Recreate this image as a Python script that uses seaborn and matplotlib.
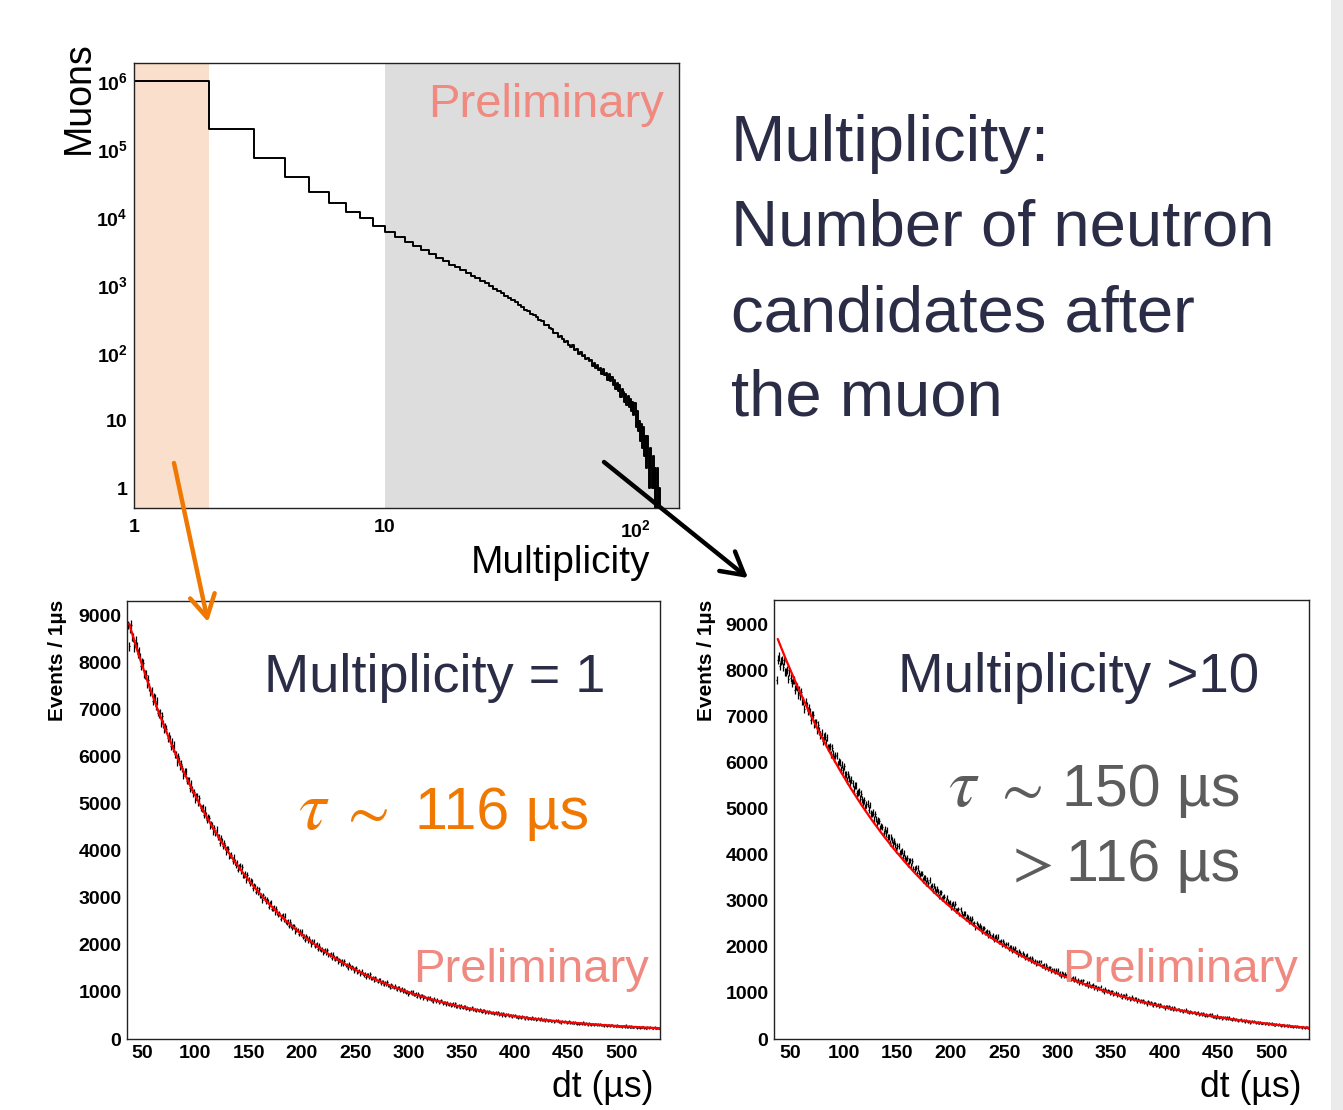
import numpy as np
import matplotlib
matplotlib.use("Agg")
import matplotlib.pyplot as plt
from matplotlib.patches import Rectangle, FancyArrowPatch
from matplotlib.ticker import MultipleLocator, LogLocator, NullFormatter
import seaborn as sns

# ---------------------------------------------------------------------------
# Muon neutron-multiplicity distribution: integer bins [k, k+1)
# ---------------------------------------------------------------------------
mult_low = list(range(1, 125))
muon_counts = [
    1030000, 196000, 75000, 39000, 23600, 16300, 11800, 9600, 7350, 6070,
    5100, 4330, 3690, 3230, 2810, 2500, 2230, 1990, 1810, 1630,
    1500, 1365, 1258, 1145, 1052, 950, 882, 801, 749, 684,
    641, 590, 556, 506, 474, 433, 409, 372, 354, 336,
    301, 289, 259, 252, 228, 222, 198, 195, 171, 174,
    161, 144, 149, 131, 122, 128, 109, 113, 97, 104,
    88, 94, 80, 84, 75, 79, 64, 71, 59, 66,
    55, 60, 49, 57, 47, 51, 40, 48, 38, 44,
    33, 40, 29, 36, 27, 33, 22, 29, 26, 19,
    25, 17, 23, 16, 21, 14, 19, 12, 18, 8,
    14, 7, 10, 5, 9, 4, 8, 3, 6, 2,
    6, 3, 1, 4, 2, 1, 3, 1, 2, 0,
    1, 2, 0, 1,
]
mult1_range = (1, 2)
mult10_range = (10, 149)

# ---------------------------------------------------------------------------
# Neutron capture time after the muon, 1 us bins (centres 37 ... 535 us)
# ---------------------------------------------------------------------------
dt_bins = list(range(37, 536))

counts_mult1 = [
    8790, 8340, 8719, 8797, 8542, 8524, 8317, 8462, 8329,
    8182, 8232, 8109, 7914, 8000, 7987, 7745, 7741, 7737, 7532,
    7633, 7467, 7360, 7394, 7183, 7251, 7250, 7074, 7177, 6932,
    6897, 6915, 6717, 6851, 6694, 6571, 6621, 6588, 6382, 6433,
    6383, 6219, 6302, 6170, 6246, 6042, 6037, 5873, 6005, 5904,
    5790, 5841, 5747, 5593, 5674, 5672, 5479, 5484, 5490, 5328,
    5421, 5289, 5209, 5245, 5077, 5144, 5151, 5012, 5107, 4909,
    4888, 4911, 4752, 4872, 4748, 4652, 4703, 4684, 4517, 4568,
    4534, 4403, 4480, 4377, 4447, 4283, 4286, 4155, 4273, 4196,
    4107, 4156, 4084, 3961, 4036, 4040, 3885, 3896, 3907, 3777,
    3863, 3758, 3696, 3733, 3596, 3659, 3672, 3560, 3647, 3486,
    3474, 3499, 3370, 3478, 3379, 3304, 3352, 3341, 3207, 3255,
    3232, 3126, 3197, 3114, 3179, 3045, 3053, 2947, 3052, 2992,
    2922, 2968, 2913, 2813, 2881, 2890, 2764, 2778, 2791, 2687,
    2764, 2680, 2632, 2668, 2557, 2613, 2628, 2538, 2616, 2485,
    2479, 2504, 2399, 2494, 2414, 2355, 2400, 2395, 2285, 2330,
    2314, 2229, 2292, 2226, 2284, 2175, 2185, 2100, 2192, 2144,
    2089, 2132, 2088, 2007, 2068, 2080, 1975, 1990, 2006, 1921,
    1989, 1921, 1883, 1917, 1826, 1877, 1893, 1819, 1888, 1780,
    1778, 1802, 1717, 1799, 1735, 1687, 1728, 1727, 1637, 1678,
    1667, 1597, 1654, 1600, 1652, 1562, 1574, 1504, 1585, 1547,
    1502, 1541, 1507, 1440, 1495, 1507, 1421, 1436, 1451, 1382,
    1442, 1387, 1357, 1388, 1314, 1358, 1373, 1314, 1375, 1286,
    1286, 1309, 1237, 1310, 1257, 1219, 1256, 1257, 1182, 1219,
    1212, 1154, 1205, 1160, 1208, 1132, 1143, 1085, 1157, 1127,
    1090, 1125, 1097, 1042, 1091, 1102, 1031, 1046, 1061, 1002,
    1056, 1010, 987, 1014, 952, 992, 1007, 958, 1011, 937,
    939, 960, 900, 964, 920, 889, 923, 925, 862, 895,
    891, 843, 887, 851, 892, 829, 841, 792, 855, 830,
    800, 832, 809, 763, 807, 818, 757, 771, 786, 737,
    785, 746, 726, 752, 699, 736, 750, 708, 756, 691,
    695, 714, 663, 720, 683, 657, 688, 691, 637, 667,
    664, 624, 663, 633, 670, 616, 627, 587, 641, 622,
    596, 625, 606, 567, 606, 617, 564, 577, 591, 549,
    592, 559, 544, 567, 522, 555, 568, 532, 574, 521,
    524, 542, 499, 549, 517, 496, 522, 525, 480, 507,
    505, 471, 505, 480, 513, 468, 477, 443, 491, 475,
    454, 480, 463, 430, 464, 475, 430, 443, 455, 419,
    457, 429, 416, 436, 398, 427, 439, 409, 446, 399,
    403, 419, 382, 426, 399, 381, 405, 408, 370, 393,
    393, 363, 395, 372, 402, 362, 372, 342, 385, 371,
    353, 376, 363, 334, 365, 374, 335, 346, 357, 327,
    360, 336, 325, 344, 312, 337, 347, 322, 355, 315,
    319, 333, 301, 341, 317, 302, 323, 326, 292, 314,
    314, 287, 317, 297, 324, 288, 297, 271, 310, 298,
    282, 304, 291, 267, 294, 303, 268, 279, 289, 263,
    293, 272, 261, 279, 249, 273, 283, 260, 292, 254,
    258, 272, 243, 278, 258, 244, 264, 268, 237, 257,
    257, 234, 260, 243, 268, 236, 244, 221, 256, 246,
    232, 251, 241, 219, 244, 252, 222, 231, 241, 217,
]

counts_mult10 = [
    7790, 8238, 8300, 8104, 8203, 8229, 8070, 8206, 7974,
    7963, 8004, 7813, 7979, 7833, 7723, 7799, 7786, 7587, 7663,
    7632, 7466, 7571, 7440, 7535, 7327, 7335, 7169, 7325, 7230,
    7117, 7186, 7092, 6931, 7034, 7043, 6838, 6855, 6873, 6702,
    6819, 6682, 6601, 6652, 6473, 6557, 6575, 6429, 6546, 6334,
    6320, 6355, 6181, 6328, 6195, 6094, 6160, 6147, 5966, 6032,
    6002, 5857, 5952, 5838, 5924, 5742, 5751, 5606, 5746, 5664,
    5566, 5629, 5549, 5409, 5502, 5512, 5333, 5350, 5368, 5220,
    5325, 5204, 5133, 5178, 5020, 5093, 5109, 4980, 5083, 4897,
    4884, 4914, 4762, 4890, 4773, 4684, 4742, 4730, 4571, 4629,
    4602, 4476, 4561, 4462, 4539, 4379, 4389, 4263, 4388, 4316,
    4232, 4289, 4221, 4102, 4184, 4195, 4042, 4059, 4076, 3950,
    4043, 3940, 3882, 3925, 3791, 3859, 3876, 3767, 3861, 3701,
    3694, 3725, 3596, 3712, 3614, 3541, 3596, 3590, 3455, 3510,
    3491, 3385, 3461, 3379, 3450, 3315, 3326, 3220, 3332, 3274,
    3203, 3256, 3199, 3098, 3173, 3185, 3054, 3072, 3090, 2983,
    3067, 2981, 2933, 2973, 2859, 2922, 2941, 2849, 2933, 2797,
    2794, 2823, 2713, 2816, 2733, 2672, 2721, 2717, 2603, 2652,
    2637, 2548, 2618, 2549, 2613, 2498, 2511, 2423, 2522, 2474,
    2416, 2463, 2418, 2332, 2400, 2412, 2302, 2320, 2337, 2248,
    2323, 2250, 2210, 2248, 2151, 2208, 2226, 2148, 2224, 2107,
    2107, 2135, 2041, 2133, 2063, 2012, 2057, 2057, 1959, 2005,
    1994, 1918, 1980, 1922, 1979, 1882, 1894, 1819, 1907, 1867,
    1818, 1862, 1824, 1751, 1812, 1825, 1731, 1749, 1766, 1689,
    1756, 1695, 1663, 1696, 1616, 1665, 1682, 1618, 1684, 1586,
    1587, 1612, 1533, 1614, 1555, 1512, 1554, 1555, 1472, 1513,
    1506, 1441, 1496, 1447, 1500, 1416, 1428, 1363, 1443, 1409,
    1368, 1407, 1375, 1314, 1368, 1380, 1299, 1316, 1332, 1268,
    1327, 1275, 1248, 1278, 1208, 1254, 1270, 1215, 1274, 1189,
    1191, 1215, 1146, 1219, 1169, 1133, 1170, 1172, 1101, 1138,
    1132, 1078, 1126, 1086, 1131, 1060, 1072, 1018, 1087, 1059,
    1025, 1060, 1032, 981, 1028, 1040, 971, 987, 1002, 946,
    999, 955, 932, 959, 900, 940, 955, 908, 960, 887,
    890, 911, 853, 916, 874, 844, 876, 879, 819, 851,
    848, 801, 844, 809, 850, 790, 801, 754, 815, 792,
    763, 794, 772, 727, 769, 781, 722, 736, 750, 703,
    749, 712, 693, 717, 666, 701, 715, 675, 721, 659,
    662, 681, 631, 687, 651, 625, 654, 657, 606, 635,
    632, 593, 631, 601, 637, 585, 595, 556, 609, 590,
    565, 592, 574, 535, 572, 582, 533, 546, 557, 517,
    558, 526, 511, 532, 489, 520, 532, 498, 538, 485,
    488, 504, 464, 510, 481, 459, 484, 488, 444, 470,
    467, 435, 467, 443, 472, 429, 438, 406, 450, 434,
    413, 438, 422, 390, 423, 432, 388, 400, 412, 377,
    413, 386, 373, 392, 355, 382, 392, 363, 398, 353,
    356, 370, 336, 377, 351, 334, 356, 358, 321, 344,
    342, 314, 343, 322, 347, 311, 319, 291, 329, 316,
    299, 320, 307, 279, 307, 316, 280, 289, 300, 270,
    301, 279, 267, 284, 253, 276, 285, 261, 292, 253,
    256, 269, 239, 274, 253, 238, 256, 259, 228, 247,
]

# Fitted exponential curves, sampled along dt
fit_dt = [38] + list(range(46, 537, 10))
fit_mult1 = [
    8821, 8227, 7546, 6922, 6351, 5828, 5348, 4909, 4507, 4139, 3801,
    3492, 3209, 2949, 2712, 2494, 2295, 2112, 1945, 1791, 1651,
    1522, 1405, 1297, 1198, 1107, 1024, 948, 879, 815, 757,
    703, 654, 609, 568, 531, 496, 465, 436, 409, 385,
    363, 342, 324, 307, 291, 276, 263, 251, 240, 230,
]
fit_mult10 = [
    8684, 8220, 7677, 7170, 6697, 6254, 5841, 5454, 5093, 4755, 4440,
    4145, 3870, 3612, 3372, 3147, 2937, 2740, 2557, 2386, 2225,
    2076, 1936, 1805, 1683, 1569, 1462, 1362, 1269, 1182, 1101,
    1025, 954, 887, 825, 767, 713, 662, 615, 571, 530,
    491, 455, 421, 390, 360, 333, 307, 283, 261, 240,
]

# Tick labels
dt_ticks = list(range(50, 501, 50))
dt_tick_labels = [str(v) for v in dt_ticks]
ev_ticks = list(range(0, 9001, 1000))
ev_tick_labels = [str(v) for v in ev_ticks]
mult_ticks = [1, 10, 100]
mult_tick_labels = ["1", "10", "$10^{2}$"]
muon_ticks = [1, 10, 1e2, 1e3, 1e4, 1e5, 1e6]
muon_tick_labels = ["1", "10", "$10^{2}$", "$10^{3}$", "$10^{4}$",
                    "$10^{5}$", "$10^{6}$"]

# ---------------------------------------------------------------------------
sns.set_theme(style="white")
plt.rcParams["font.family"] = ["Liberation Sans", "DejaVu Sans"]
plt.rcParams["mathtext.fontset"] = "custom"
plt.rcParams["mathtext.rm"] = "Liberation Sans:bold"
plt.rcParams["mathtext.bf"] = "Liberation Sans:bold"
plt.rcParams["mathtext.it"] = "Liberation Sans:italic:bold"

NAVY = "#2b2d47"
SALMON = "#f08a80"
ORANGE = "#f07800"
GREY = "#5c5c5c"
FRAME = "#222222"

W, H = 1343, 1110
fig = plt.figure(figsize=(W / 100, H / 100), dpi=100)
fig.patch.set_facecolor("white")


def fx(x):
    return x / W


def fy(y):
    return 1 - y / H


def axes_px(left, top, right, bottom):
    return fig.add_axes([fx(left), fy(bottom), (right - left) / W, (bottom - top) / H])


def put(x, y, s, **kw):
    kw.setdefault("va", "baseline")
    return fig.text(fx(x), fy(y), s, **kw)


def style_frame(ax):
    for sp in ax.spines.values():
        sp.set_visible(True)
        sp.set_color(FRAME)
        sp.set_linewidth(1.0)
    ax.set_facecolor("white")
    ax.set_xlabel("")
    ax.set_ylabel("")


# ---------------- multiplicity histogram ----------------
ax_top = axes_px(134, 63, 679, 508)
ax_top.axvspan(*mult1_range, color="#fae0cc", lw=0, zorder=0)
ax_top.axvspan(*mult10_range, color="#dddddd", lw=0, zorder=0)
edges = mult_low + [mult_low[-1] + 1]
heights = muon_counts + [0]
sns.lineplot(x=edges, y=heights, drawstyle="steps-post", color="black",
             lw=1.4, estimator=None, sort=False, ax=ax_top, zorder=2)
ax_top.set_xscale("log")
ax_top.set_yscale("log")
ax_top.set_xlim(1, 149)
ax_top.set_ylim(0.513, 1.87e6)
ax_top.set_xticks(mult_ticks, labels=mult_tick_labels, fontsize=14, fontweight="bold")
ax_top.set_yticks(muon_ticks, labels=muon_tick_labels, fontsize=14, fontweight="bold")
ax_top.xaxis.set_minor_locator(LogLocator(base=10, subs=np.arange(2, 10), numticks=100))
ax_top.yaxis.set_minor_locator(LogLocator(base=10, subs=np.arange(2, 10), numticks=100))
ax_top.xaxis.set_minor_formatter(NullFormatter())
ax_top.yaxis.set_minor_formatter(NullFormatter())
ax_top.tick_params(axis="x", which="major", direction="in", length=8.6, width=0.8,
                   color="#333333", labelcolor="black", pad=8)
ax_top.tick_params(axis="x", which="minor", direction="in", length=5, width=0.8,
                   color="#333333")
ax_top.tick_params(axis="y", which="major", direction="in", length=13, width=0.8,
                   color="#333333", labelcolor="black", pad=4.5)
ax_top.tick_params(axis="y", which="minor", direction="in", length=6.3, width=0.8,
                   color="#333333")
style_frame(ax_top)


# ---------------- capture-time spectra ----------------
def decay_panel(ax, counts, fit_vals, xlim, ylim):
    c = np.asarray(counts, dtype=float)
    ax.errorbar(dt_bins, c, xerr=0.5, yerr=np.sqrt(c), fmt="none",
                ecolor="black", elinewidth=0.9, capsize=0, zorder=2)
    sns.lineplot(x=fit_dt, y=fit_vals, color="#ff0000", lw=1.6,
                 estimator=None, sort=False, ax=ax, zorder=3)
    ax.set_xlim(*xlim)
    ax.set_ylim(*ylim)
    ax.set_xticks(dt_ticks, labels=dt_tick_labels, fontsize=14, fontweight="bold")
    ax.set_yticks(ev_ticks, labels=ev_tick_labels, fontsize=14, fontweight="bold")
    ax.xaxis.set_minor_locator(MultipleLocator(10))
    ax.yaxis.set_minor_locator(MultipleLocator(200))
    ax.tick_params(axis="x", which="major", direction="in", length=9, width=0.8,
                   color="#333333", labelcolor="black", pad=4)
    ax.tick_params(axis="x", which="minor", direction="in", length=4.8, width=0.8,
                   color="#333333")
    ax.tick_params(axis="y", which="major", direction="in", length=12.2, width=0.8,
                   color="#333333", labelcolor="black", pad=4)
    ax.tick_params(axis="y", which="minor", direction="in", length=6, width=0.8,
                   color="#333333")
    style_frame(ax)


ax_l = axes_px(127, 601, 660, 1039)
decay_panel(ax_l, counts_mult1, fit_mult1, (36, 536), (0, 9300))
ax_r = axes_px(774, 600, 1309, 1039)
decay_panel(ax_r, counts_mult10, fit_mult10, (34.5, 535), (0, 9530))

# ---------------- axis titles ----------------
put(89, 97.5, "Muons", rotation=90, rotation_mode="anchor", ha="center",
    fontsize=27, color="black")
put(650, 573, "Multiplicity", ha="right", fontsize=28, color="black")
for xb in (63, 712):
    put(xb, 660, "Events / 1µs", rotation=90, rotation_mode="anchor",
        ha="center", fontsize=15, fontweight="bold", color="black")
put(653, 1097, "dt (µs)", ha="right", fontsize=25.6, color="black")
put(1302, 1097, "dt (µs)", ha="right", fontsize=25.6, color="black")

# ---------------- annotations ----------------
put(664, 117, "Preliminary", ha="right", fontsize=34, color=SALMON)
put(649, 982, "Preliminary", ha="right", fontsize=34, color=SALMON)
put(1298, 982, "Preliminary", ha="right", fontsize=34, color=SALMON)

for text, yb in (("Multiplicity:", 161), ("Number of neutron", 246),
                 ("candidates after", 331), ("the muon", 415)):
    put(731, yb, text, fontsize=47, color=NAVY)

put(264, 692, "Multiplicity = 1", fontsize=39, color=NAVY)
put(898, 692, "Multiplicity >10", fontsize=39.4, color=NAVY)

put(298, 829, r"$\tau$", fontsize=50, color=ORANGE, math_fontfamily="stix")
put(339, 829, r"$\sim$", fontsize=44, color=ORANGE, math_fontfamily="stix")
put(415, 829, "116 µs", fontsize=42.5, color=ORANGE)

put(948, 806, r"$\tau$", fontsize=50, color=GREY, math_fontfamily="stix")
put(993, 806, r"$\sim$", fontsize=44, color=GREY, math_fontfamily="stix")
put(1240, 806, "150 µs", ha="right", fontsize=42.5, color=GREY)
put(1004, 881, r"$>$", fontsize=44, color=GREY, math_fontfamily="stix")
put(1240, 881, "116 µs", ha="right", fontsize=42.5, color=GREY)

# arrows from the selected multiplicity ranges to their spectra
for (x0, y0), (x1, y1), col in (((174, 463), (208, 622), ORANGE),
                                ((604, 462), (748, 578), "black")):
    fig.add_artist(FancyArrowPatch((fx(x0), fy(y0)), (fx(x1), fy(y1)),
                                   transform=fig.transFigure,
                                   arrowstyle="->,head_length=0.8,head_width=0.45",
                                   mutation_scale=20, lw=3.2, color=col,
                                   shrinkA=0, shrinkB=0, zorder=5))

# page edge strip
fig.add_artist(Rectangle((fx(1331), 0), (W - 1331) / W, 1, transform=fig.transFigure,
                         color="#ebebeb", lw=0, zorder=-1))

fig.savefig("out.png", dpi=100)
